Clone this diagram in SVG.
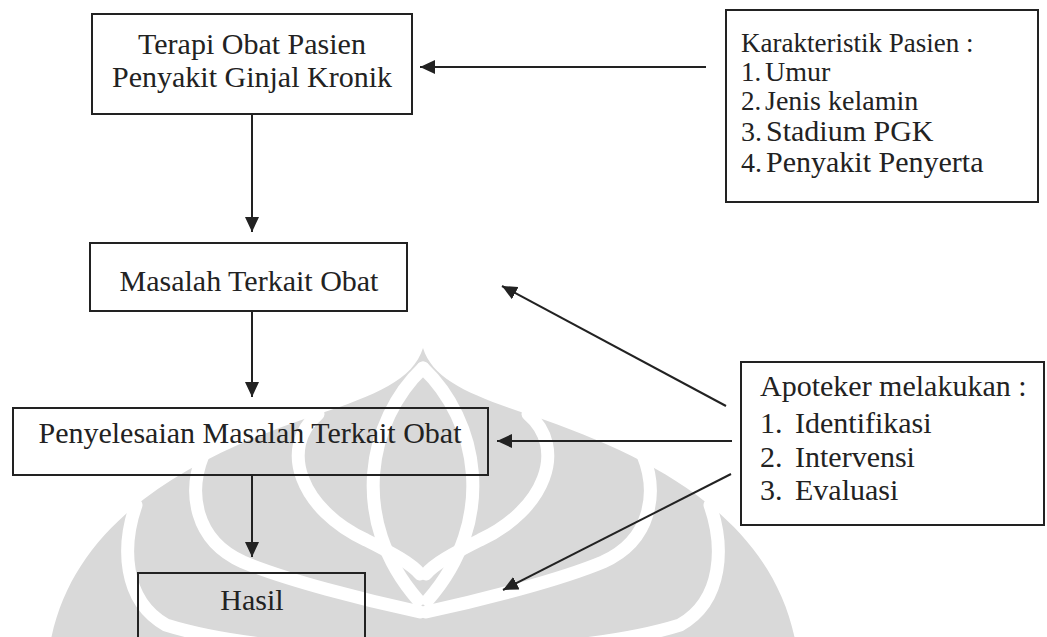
<svg xmlns="http://www.w3.org/2000/svg" width="1047" height="637" viewBox="0 0 1047 637">
<style>
.box{fill:none;stroke:#222;stroke-width:2}
.t{font-family:"Liberation Serif","Times New Roman",serif;fill:#222;font-size:30px}
.s27{font-size:27px}
.s28{font-size:28px}
.s30{font-size:30px}
.c{text-anchor:middle}
.edge{stroke:#222;stroke-width:2;fill:none;marker-end:url(#ah)}
.band{fill:none;stroke:#fff;stroke-width:13;stroke-linecap:round}
</style>
<defs>
<marker id="ah" markerUnits="userSpaceOnUse" markerWidth="16" markerHeight="14" refX="15" refY="7" orient="auto">
<path d="M0,0 L15,7 L0,14 Z" fill="#222"/>
</marker>
<g id="bandsR">
<path class="band" d="M423,368 C478,420 498,520 428,600"/>
<path class="band" d="M528,414 C568,448 545,510 480,540 C452,554 434,564 426,574"/>
<path class="band" d="M643,455 C658,492 652,540 603,562 C560,580 482,600 426,612"/>
<path class="band" d="M710,505 C724,545 724,600 680,625 C600,650 482,652 426,652"/>
</g>
</defs>
<rect width="1047" height="637" fill="#fff"/>
<g id="watermark">
<path fill="#d9d9d9" d="M423,348 C433,380 470,395 530,415 C680,465 800,540 800,690 L46,690 C46,540 166,465 316,415 C376,395 413,380 423,348 Z"/>
<use href="#bandsR"/>
<use href="#bandsR" transform="translate(846,0) scale(-1,1)"/>
</g>
<g id="terapi">
<rect class="box" x="92" y="14" width="320" height="100"/>
<text class="t c" x="252" y="54">Terapi Obat Pasien</text>
<text class="t c" x="252" y="87">Penyakit Ginjal Kronik</text>
</g>
<g id="karakteristik">
<rect class="box" x="726" y="10" width="312" height="192"/>
<text class="t s27" x="741" y="52">Karakteristik Pasien :</text>
<text class="t s27" x="741" y="81">1.</text><text class="t s28" x="765" y="81">Umur</text>
<text class="t s27" x="741" y="110">2.</text><text class="t s28" x="765" y="110">Jenis kelamin</text>
<text class="t s28" x="741" y="141">3.</text><text class="t s30" x="766" y="141">Stadium PGK</text>
<text class="t s28" x="741" y="172">4.</text><text class="t s30" x="766" y="172">Penyakit Penyerta</text>
</g>
<g id="masalah">
<rect class="box" x="90" y="243" width="317" height="68"/>
<text class="t c" x="249" y="291">Masalah Terkait Obat</text>
</g>
<g id="penyelesaian">
<rect class="box" x="13" y="408" width="475" height="67"/>
<text class="t c" x="250" y="443">Penyelesaian Masalah Terkait Obat</text>
</g>
<g id="hasil">
<rect class="box" x="138" y="573" width="227" height="100"/>
<text class="t c" x="252" y="610">Hasil</text>
</g>
<g id="apoteker">
<rect class="box" x="741" y="362" width="303" height="163"/>
<text class="t" x="760" y="396">Apoteker melakukan :</text>
<text class="t" x="760" y="433">1.</text><text class="t" x="795" y="433">Identifikasi</text>
<text class="t" x="760" y="467">2.</text><text class="t" x="795" y="467">Intervensi</text>
<text class="t" x="760" y="500">3.</text><text class="t" x="795" y="500">Evaluasi</text>
</g>
<g id="connectors">
<line class="edge" x1="706" y1="67" x2="420" y2="67"/>
<line class="edge" x1="252" y1="114" x2="252" y2="232"/>
<line class="edge" x1="252" y1="311" x2="252" y2="397"/>
<line class="edge" x1="252" y1="475" x2="252" y2="557"/>
<line class="edge" x1="726" y1="406" x2="502" y2="286"/>
<line class="edge" x1="732" y1="441" x2="497" y2="441"/>
<line class="edge" x1="731" y1="474" x2="503" y2="590"/>
</g>
</svg>
